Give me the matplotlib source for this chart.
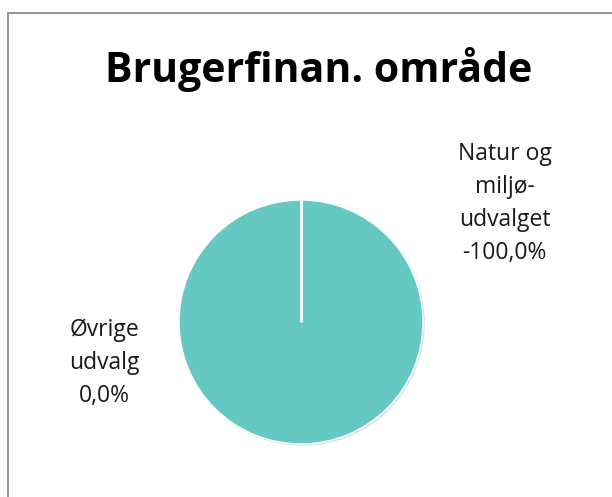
import numpy as np
import matplotlib.pyplot as plt
from matplotlib.patches import Rectangle

# Data
labels = ["Øvrige\nudvalg", "Natur og\nmiljø-\nudvalget"]
shares = [0.0, -100.0]  # percent, as shown in the data labels
title = "Brugerfinan. område"

pie_color = "#66c8c2"
label_pos = [(-1.61, -0.34), (1.67, 0.975)]  # label centres in pie radii

plt.rcParams['font.family'] = ['Open Sans', 'DejaVu Sans']

fig = plt.figure(figsize=(6.12, 4.97), dpi=100)

# chart border (cropped at right/bottom like the source)
fig.patches.append(Rectangle((7.5 / 612, -0.05), 1.2, 1 - 12.5 / 497 + 0.05,
                             transform=fig.transFigure, fill=False,
                             edgecolor="#8c8c8c", linewidth=1.3))

ax = fig.add_axes([(301 - 122) / 612, (497 - 444) / 497, 244 / 612, 244 / 497])
sizes = [abs(s) for s in shares]
wedges, _ = ax.pie(sizes, colors=[pie_color, pie_color], startangle=90,
                   counterclock=False, radius=1.0,
                   wedgeprops=dict(edgecolor="white", linewidth=1.0),
                   shadow=dict(ox=0.008, oy=-0.008, shade=0.5, alpha=0.12))

# slice boundary line (zero-size slice shows as a white radius)
ang = np.deg2rad(wedges[0].theta2)
ax.plot([0, np.cos(ang)], [0, np.sin(ang)], color="white", linewidth=2,
        solid_capstyle="butt")

ax.set_xlim(-1, 1)
ax.set_ylim(-1, 1)
ax.set_aspect("equal")
ax.axis("off")

for lab, s, (x, y) in zip(labels, shares, label_pos):
    txt = lab + "\n" + f"{s:.1f}".replace(".", ",") + "%"
    ax.text(x, y, txt, ha="center", va="center", fontsize=16.5,
            linespacing=1.5, color="#1a1a1a", clip_on=False)

fig.text(319 / 612, 1 - 70 / 497, title, ha="center", va="center",
         fontsize=29.5, fontweight="bold", color="black")

fig.savefig("out.png", dpi=100)
